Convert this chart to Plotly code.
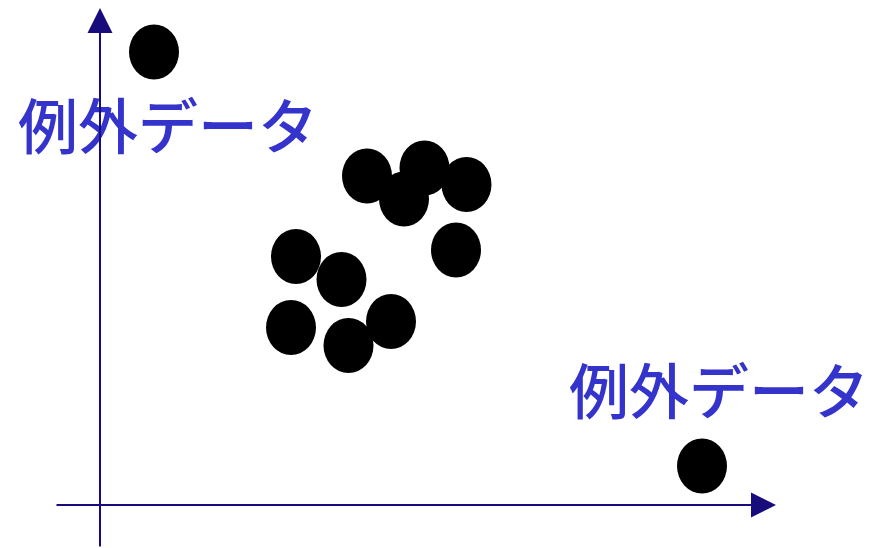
import plotly.graph_objects as go

# dot centres, origin at the axis crossing
dot_x = [54, 267, 324.5, 366.5, 304, 356, 196, 241.5, 191, 291, 248.5, 602]
dot_y = [453, 329, 337, 320.5, 306, 255, 248.5, 225.5, 177.5, 183.5, 159.5, 39]

label_text = ["例外データ", "例外データ"]
label_x = [68, 619]
label_y = [383, 118]

axis_color = "#180c7c"
text_color = "#3434cc"
rx, ry = 25, 27.5  # half width / height of each dot

fig = go.Figure()
fig.add_trace(go.Scatter(x=[], y=[], showlegend=False))

shapes = []
for x, y in zip(dot_x, dot_y):
    shapes.append(dict(
        type="circle", xref="x", yref="y",
        x0=x - rx, x1=x + rx, y0=y - ry, y1=y + ry,
        fillcolor="black", line=dict(color="black", width=0),
    ))

annotations = []
for t, x, y in zip(label_text, label_x, label_y):
    annotations.append(dict(
        x=x, y=y, xref="x", yref="y", text=t, showarrow=False,
        font=dict(family="Noto Sans CJK JP", size=60, color=text_color, weight=500),
    ))

# axis arrows (drawn after the labels so the line sits on top)
annotations.append(dict(
    x=0, y=497, ax=0, ay=-43, xref="x", yref="y", axref="x", ayref="y",
    text="", showarrow=True, arrowhead=2, arrowsize=2.5, arrowwidth=2,
    arrowcolor=axis_color,
))
annotations.append(dict(
    x=676, y=0, ax=-45, ay=0, xref="x", yref="y", axref="x", ayref="y",
    text="", showarrow=True, arrowhead=2, arrowsize=2.5, arrowwidth=2,
    arrowcolor=axis_color,
))

# page body adds an 8px margin, so the figure is 8px smaller
fig.update_layout(
    width=862, height=540,
    margin=dict(l=0, r=0, t=0, b=0),
    paper_bgcolor="white", plot_bgcolor="white",
    xaxis=dict(range=[-92, 770], visible=False, fixedrange=True),
    yaxis=dict(range=[-43, 497], visible=False, fixedrange=True),
    shapes=shapes,
    annotations=annotations,
    showlegend=False,
)

fig.write_html("out.html")
